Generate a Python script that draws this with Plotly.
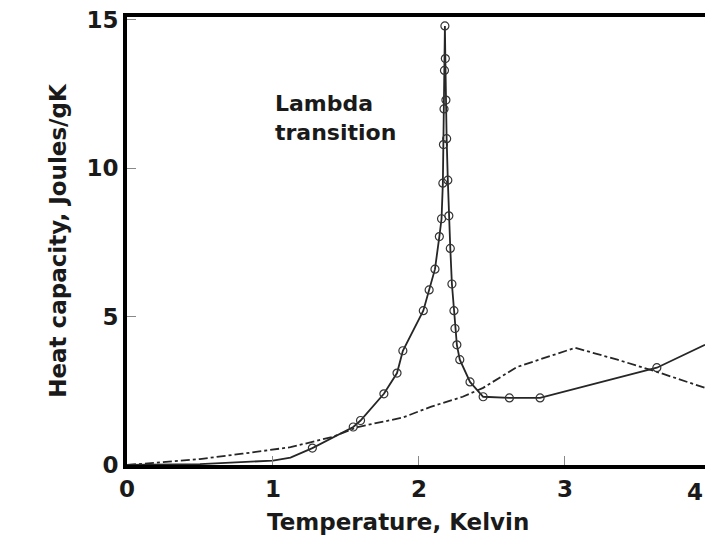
import plotly.graph_objects as go

# Liquid helium-4: measured specific heat around the lambda point
temp_he = [0.0, 0.5, 1.0, 1.12, 1.27, 1.55, 1.6, 1.76, 1.85, 1.89, 2.03, 2.07, 2.11,
           2.14, 2.155, 2.164, 2.168, 2.172, 2.175, 2.178, 2.181, 2.185, 2.19, 2.198,
           2.205, 2.215, 2.226, 2.24, 2.247, 2.26, 2.28, 2.35, 2.44, 2.62, 2.83, 3.63, 3.96]
cap_he = [0.0, 0.03, 0.15, 0.25, 0.57, 1.28, 1.5, 2.4, 3.1, 3.85, 5.2, 5.9, 6.6,
          7.7, 8.3, 9.5, 10.8, 12.0, 13.3, 14.8, 13.7, 12.3, 11.0, 9.6,
          8.4, 7.3, 6.1, 5.2, 4.6, 4.05, 3.55, 2.8, 2.3, 2.26, 2.26, 3.28, 4.05]

# Ideal Bose gas with the same density, for comparison
temp_ideal = [0.0, 0.27, 0.5, 0.79, 0.96, 1.12, 1.41, 1.58, 1.89, 2.08, 2.3, 2.44,
              2.67, 3.07, 3.36, 3.63, 3.96]
cap_ideal = [0.0, 0.1, 0.2, 0.38, 0.5, 0.6, 0.95, 1.28, 1.6, 1.96, 2.3, 2.6,
             3.3, 3.95, 3.55, 3.14, 2.6]

x_ticks = [0, 1, 2, 3]
y_ticks = [0, 5, 10, 15]
x_max = 3.96
y_max = 15.1

FONT = "DejaVu Sans"
INK = "#1a1a1a"
bold = dict(family=FONT, size=23, color=INK, weight="bold")

fig = go.Figure()

fig.add_trace(go.Scatter(
    x=temp_ideal, y=cap_ideal, mode="lines",
    line=dict(color="#262626", width=1.8, dash="dashdot"),
    hoverinfo="skip", showlegend=False,
))

fig.add_trace(go.Scatter(
    x=temp_he, y=cap_he, mode="lines",
    line=dict(color="#262626", width=1.8),
    hoverinfo="skip", showlegend=False,
))

# open circles on the measured points (not on the near-zero tail)
mx = [t for t in temp_he if 1.2 < t < 3.9]
my = [c for t, c in zip(temp_he, cap_he) if 1.2 < t < 3.9]
fig.add_trace(go.Scatter(
    x=mx, y=my, mode="markers",
    marker=dict(symbol="circle-open", size=8, color="#333333", line=dict(width=1.2)),
    hoverinfo="skip", showlegend=False,
))

fig.add_annotation(
    x=1.0, y=11.7, xref="x", yref="y", xanchor="left", yanchor="middle",
    text="Lambda<br>transition", showarrow=False, align="left",
    font=dict(family=FONT, size=22, color=INK, weight="bold"),
)

# last tick label, pushed against the right edge of the page
fig.add_annotation(
    x=1.0, y=0, xref="paper", yref="paper", xanchor="right", yanchor="top",
    yshift=-12, text="4", showarrow=False, font=bold,
)

# x-axis title, set slightly left of the plot centre
fig.add_annotation(
    x=0.469, y=0, xref="paper", yref="paper", xanchor="center", yanchor="middle",
    yshift=-57, text="Temperature, Kelvin", showarrow=False, font=bold,
)

fig.update_xaxes(
    range=[0, x_max], tickvals=x_ticks, ticktext=[str(v) for v in x_ticks],
    showgrid=False, zeroline=False,
    showline=True, linecolor="black", linewidth=4, mirror=True,
    ticks="inside", ticklen=9, tickwidth=1, tickcolor="#888888",
    tickfont=bold,
)
fig.update_yaxes(
    range=[0, y_max], tickvals=y_ticks, ticktext=[str(v) for v in y_ticks],
    showgrid=False, zeroline=False,
    showline=True, linecolor="black", linewidth=4,
    ticks="inside", ticklen=9, tickwidth=1, tickcolor="#888888",
    tickfont=bold,
    title=dict(text="Heat capacity, Joules/gK", standoff=14, font=bold),
)

fig.update_layout(
    width=705, height=539,
    margin=dict(l=127, r=0, t=17, b=74),
    paper_bgcolor="white", plot_bgcolor="white",
)

fig.write_html("out.html")
